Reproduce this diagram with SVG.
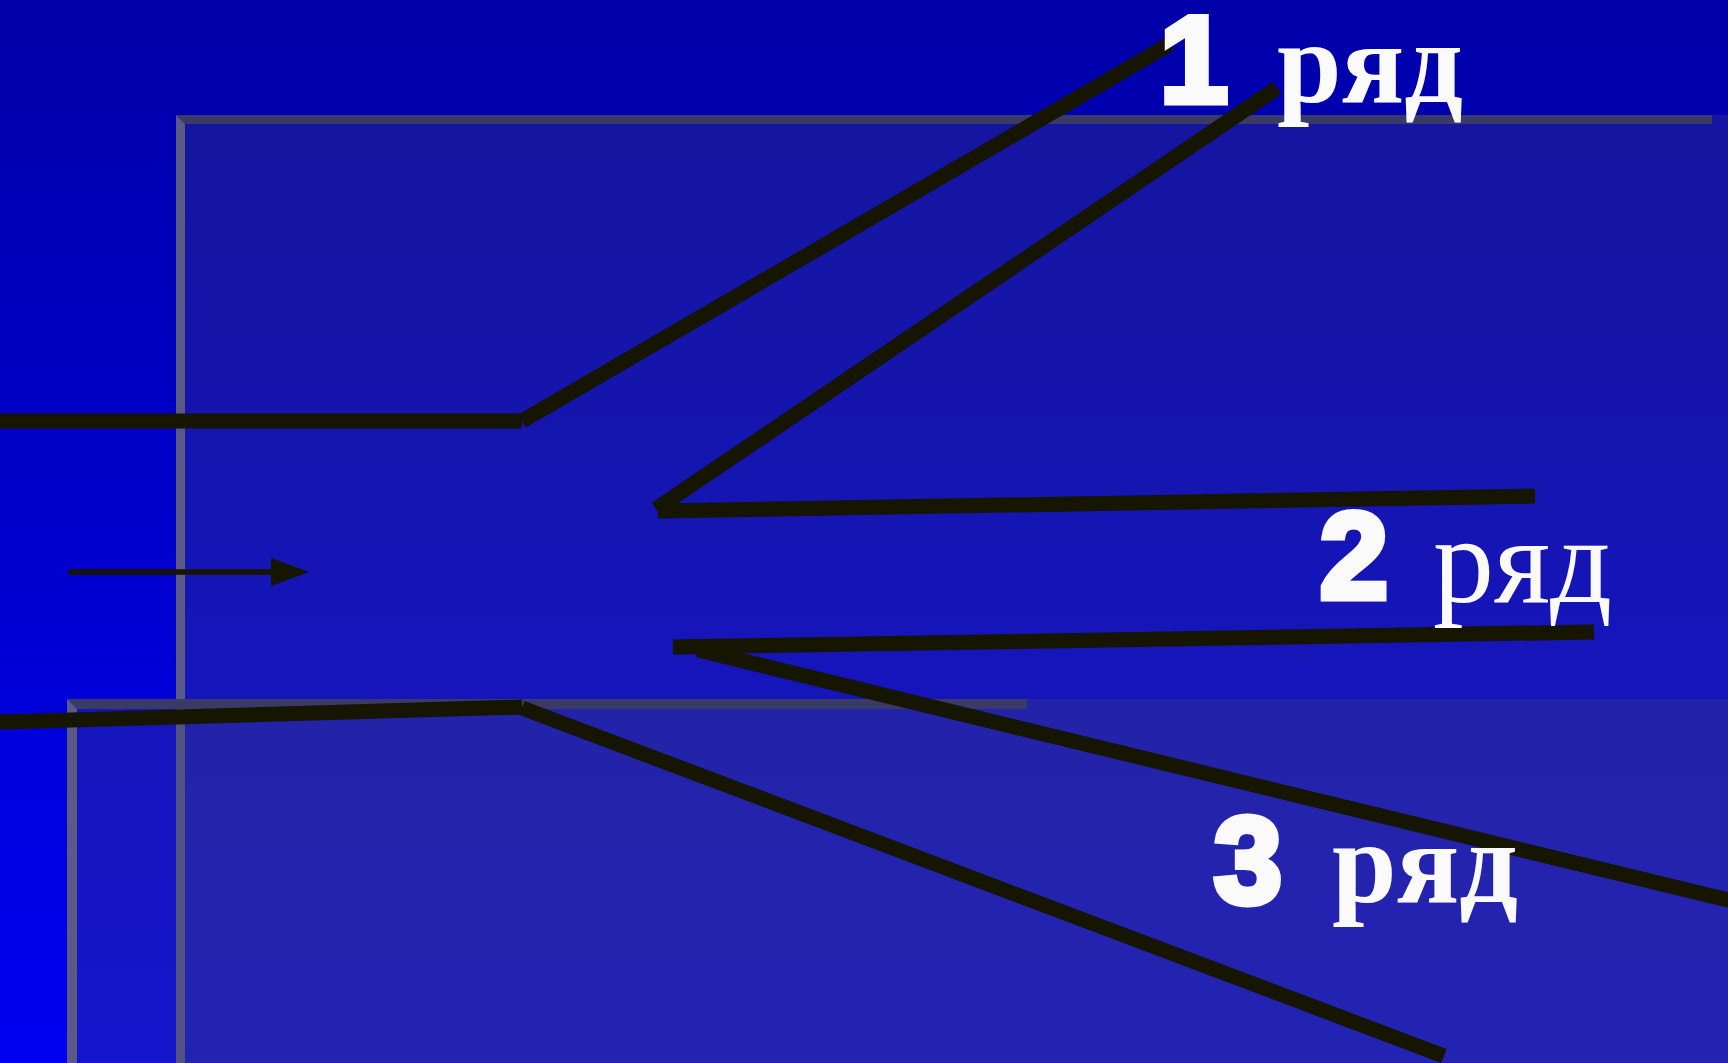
<svg xmlns="http://www.w3.org/2000/svg" width="1728" height="1063" viewBox="0 0 1728 1063">
<defs>
<linearGradient id="bg" x1="0" y1="0" x2="0" y2="1">
<stop offset="0" stop-color="#0000A8"/>
<stop offset="1" stop-color="#0000F2"/>
</linearGradient>
</defs>
<style>
.box{fill:#404080;fill-opacity:0.32}
.barTop{fill:#3A3A66}
.barLeft{fill:#5A5A84}
.ln{stroke:#151500;stroke-width:15;fill:none;stroke-linecap:butt}
.dig{font-family:"Liberation Sans",Arial,sans-serif;font-weight:bold;font-size:122px;fill:#FAFAFA;stroke:#FAFAFA;stroke-width:7;stroke-linejoin:miter}
.wb{font-family:"Liberation Serif","Times New Roman",serif;font-weight:bold;font-size:116px;fill:#FAFAFA}
.wr{font-family:"Liberation Serif","Times New Roman",serif;font-size:122px;fill:#FAFAFA}
</style>
<rect x="0" y="0" width="1728" height="1063" fill="url(#bg)"/>
<g id="panel1">
<rect class="box" x="176" y="115" width="1552" height="948"/>
<polygon class="barTop" points="176,115 1712,115 1712,124 185,124"/>
<polygon class="barLeft" points="176,115 185,124 185,1063 176,1063"/>
</g>
<g id="panel2">
<rect class="box" x="67" y="699" width="1661" height="364"/>
<polygon class="barTop" points="67,699 1027,699 1027,709 77,709"/>
<polygon class="barLeft" points="67,699 77,709 77,1063 67,1063"/>
</g>
<g id="connectors">
<line class="ln" x1="0" y1="421" x2="522" y2="421"/>
<line class="ln" x1="522" y1="421" x2="1170" y2="44"/>
<line class="ln" x1="1277" y1="88" x2="656" y2="509"/>
<line class="ln" x1="658" y1="511" x2="1535" y2="496"/>
<line class="ln" x1="673" y1="647" x2="1594" y2="632"/>
<line class="ln" x1="698" y1="650" x2="1740" y2="903"/>
<line class="ln" x1="0" y1="722" x2="522" y2="707"/>
<line class="ln" x1="522" y1="708" x2="1444" y2="1056"/>
<g id="arrow">
<line x1="68" y1="572" x2="274" y2="572" stroke="#151500" stroke-width="5.5"/>
<polygon points="271,558 309,572 271,586" fill="#151500"/>
</g>
</g>
<g id="label1">
<text class="dig" x="1160" y="102">1</text>
<text class="wb" x="1277" y="102">ряд</text>
</g>
<g id="label2">
<text class="dig" x="1320" y="598">2</text>
<text class="wr" x="1433" y="602">ряд</text>
</g>
<g id="label3">
<text class="dig" x="1214" y="903">3</text>
<text class="wb" x="1332" y="902" font-size="113">ряд</text>
</g>
</svg>
